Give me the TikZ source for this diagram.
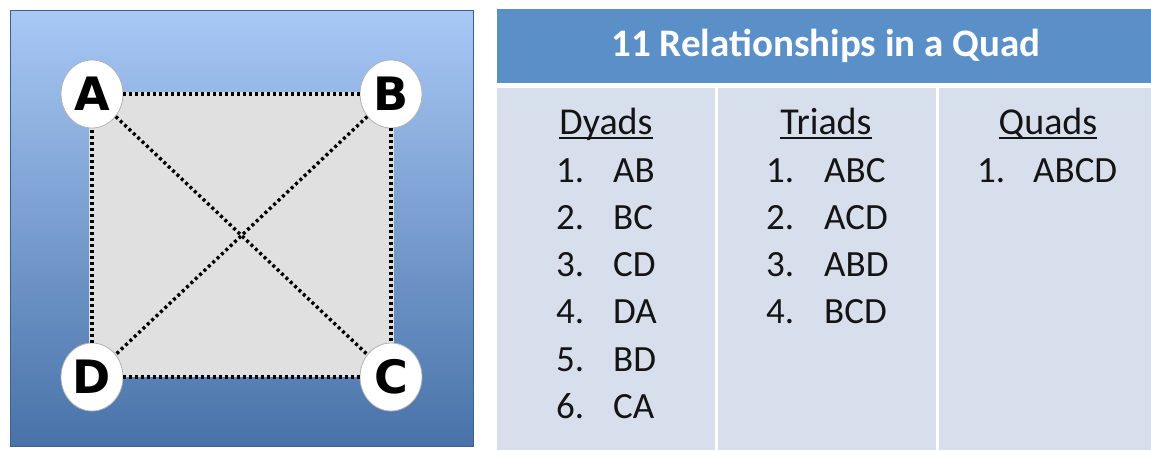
\documentclass[tikz,border=0pt]{standalone}
\usepackage{fontspec}
\setmainfont{Carlito}
\newfontfamily\lettersfont{DejaVu Sans}
\usetikzlibrary{positioning,shapes.geometric}

\definecolor{paneltop}{RGB}{168,200,245}
\definecolor{panelbottom}{RGB}{72,114,168}
\definecolor{headblue}{RGB}{91,143,200}
\definecolor{cellgray}{RGB}{216,223,236}
\definecolor{squaregray}{RGB}{224,224,224}
\definecolor{ink}{RGB}{20,20,20}

\tikzset{
  corner/.style={ellipse, draw=gray!60, line width=0.8pt, fill=white,
    minimum width=62pt, minimum height=68pt, inner sep=0pt,
    font=\lettersfont\bfseries\fontsize{46}{46}\selectfont},
  tie/.style={line width=3.4pt, dash pattern=on 3pt off 3pt},
  colhead/.style={anchor=base, inner sep=0pt, text=ink,
    font=\fontsize{38}{42}\selectfont},
  item/.style={anchor=base west, inner sep=0pt, text=ink,
    font=\fontsize{37}{42}\selectfont},
}

\begin{document}
\begin{tikzpicture}[x=1pt,y=-1pt]
    \useasboundingbox (0,0) rectangle (1151,450);

    % left panel with the four corners
    \shade[top color=paneltop, bottom color=panelbottom] (10,10) rectangle (473,446);
    \draw[panelbottom!85!black, line width=0.6pt] (10,10) rectangle (473,446);
    \fill[squaregray] (89,92) rectangle (394,377);

    \node[corner] (A) at (92,94) {A};
    \node[corner] (B) at (391,94) {B};
    \node[corner] (C) at (391,377) {C};
    \node[corner] (D) at (92,377) {D};

    \foreach \u / \v in {A/B,B/C,C/D,D/A,A/C,B/D}
        \draw[tie] (\u) -- (\v);

    % table on the right
    \fill[headblue] (497,9) rectangle (1151,83);
    \fill[cellgray] (497,88) rectangle (1151,450);
    \foreach \x in {716,937}
        \draw[white, line width=3pt] (\x,88) -- (\x,450);

    \node[text=white, font=\bfseries\fontsize{39}{44}\selectfont] (title) at (826,46) {11 Relationships in a Quad};

    \foreach \name / \x / \txt in {dyads/606/Dyads, triads/826/Triads, quads/1048/Quads} {
        \node[colhead] (\name) at (\x,134) {\txt};
        \draw[ink, line width=1.6pt] ([yshift=-4pt]\name.base west) -- ([yshift=-4pt]\name.base east);
    }

    \foreach \i / \pair in {1/AB,2/BC,3/CD,4/DA,5/BD,6/CA} {
        \node[item] (dn\i) at (556,{182+47.3*(\i-1)}) {\i.};
        \node[item] (dp\i) at (613,{182+47.3*(\i-1)}) {\pair};
    }
    \foreach \i / \trio in {1/ABC,2/ACD,3/ABD,4/BCD} {
        \node[item] (tn\i) at (766,{182+47.3*(\i-1)}) {\i.};
        \node[item] (tp\i) at (824,{182+47.3*(\i-1)}) {\trio};
    }
    \node[item] (qn1) at (977,182) {1.};
    \node[item] (qp1) at (1033,182) {ABCD};
\end{tikzpicture}
\end{document}
